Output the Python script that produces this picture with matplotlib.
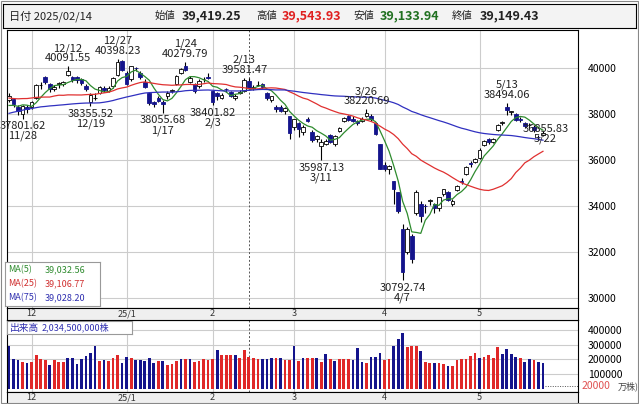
import numpy as np
import pandas as pd
import matplotlib
matplotlib.use("Agg")
import matplotlib.pyplot as plt
from matplotlib.patches import Rectangle

plt.rcParams['font.family'] = ['Noto Sans CJK JP', 'DejaVu Sans']

holidays = ["2024-12-31", "2025-01-01", "2025-01-02", "2025-01-03", "2025-01-13", "2025-02-11",
            "2025-02-24", "2025-03-20", "2025-04-29", "2025-05-05", "2025-05-06"]
dates = [d for d in pd.bdate_range("2024-11-25", "2025-05-23") if d.strftime("%Y-%m-%d") not in holidays]

pre_close = [34675, 35089, 34831, 35025, 36232, 36442, 36726, 38062, 37388, 38062, 37951, 38211, 38364, 38110,
             38288, 38371, 38362, 38647, 38700, 38686, 37047, 36657, 36391, 36159, 36215, 35619, 36833, 36581,
             36203, 36380, 37155, 37723, 37940, 37870, 38925, 39829, 37919, 38651, 37808, 38552, 38635, 39332,
             38937, 39277, 39380, 39605, 39910, 39180, 38911, 38981, 38954, 38411, 38104, 38143, 37913, 38605,
             39027, 39277, 39081, 38053, 38474, 39480, 39381, 39500, 39533, 39376, 38721, 38535, 38642, 38220,
             38414, 38352, 38026, 38283]

ohlc = [
    (38600, 38900, 38500, 38780), (38650, 38700, 38300, 38442), (38300, 38400, 37950, 38134),
    (38000, 38400, 37801.62, 38349), (38300, 38400, 38050, 38208),
    (38300, 38550, 38200, 38513), (38700, 39300, 38650, 39248), (39250, 39400, 39100, 39276),
    (39600, 39650, 39300, 39395), (39300, 39350, 38950, 39091), (39100, 39250, 39000, 39160),
    (39300, 39400, 39150, 39367), (39300, 39450, 39200, 39372), (39700, 40091.55, 39650, 39849),
    (39600, 39650, 39400, 39470), (39600, 39650, 39350, 39457), (39500, 39550, 39250, 39364),
    (39200, 39300, 39000, 39081), (38500, 38900, 38355.52, 38813), (38700, 38900, 38600, 38701),
    (38900, 39200, 38850, 39161), (39150, 39200, 38950, 39036), (39000, 39200, 38950, 39130),
    (39200, 39600, 39150, 39568), (39700, 40398.23, 39650, 40281), (40300, 40350, 39850, 39894),
    (39800, 39850, 39250, 39307), (39500, 40100, 39450, 40083), (40000, 40050, 39850, 39981),
    (39800, 39850, 39500, 39605), (39400, 39500, 39150, 39190), (38900, 38950, 38400, 38474),
    (38500, 38550, 38300, 38444), (38700, 38800, 38500, 38572), (38500, 38600, 38055.68, 38451),
    (38800, 39000, 38650, 38902), (39000, 39100, 38900, 39027), (39300, 39700, 39250, 39646),
    (39800, 40000, 39750, 39958), (40100, 40279.79, 39850, 39931), (39400, 39650, 39350, 39565),
    (39300, 39350, 38900, 39016), (39200, 39500, 39150, 39414), (39500, 39600, 39400, 39513),
    (39600, 39800, 39500, 39572), (39000, 39000, 38401.82, 38520), (38900, 38950, 38600, 38798),
    (38700, 38900, 38650, 38831), (39100, 39150, 38950, 39066), (38950, 39000, 38750, 38787),
    (38700, 38850, 38600, 38801), (38900, 39050, 38850, 38963), (39000, 39581.47, 38950, 39461),
    (39419.25, 39543.93, 39133.94, 39149.43), (39150, 39250, 39050, 39174), (39250, 39450, 39200, 39270),
    (39300, 39350, 39100, 39164), (38900, 38950, 38600, 38678), (38600, 38800, 38500, 38776),
    (38300, 38400, 38100, 38237), (38300, 38400, 38100, 38142), (38150, 38300, 38000, 38256),
    (37900, 37900, 36900, 37155), (37450, 37800, 37300, 37785), (37600, 37650, 37000, 37331),
    (37200, 37500, 37100, 37418), (37800, 37850, 37650, 37704), (37200, 37300, 36800, 36887),
    (36900, 37100, 36800, 37028), (36600, 36900, 35987.13, 36793), (36700, 36900, 36650, 36819),
    (37100, 37150, 36750, 36790), (36700, 37100, 36600, 37053), (37250, 37450, 37200, 37396),
    (37700, 37850, 37650, 37845), (37900, 37950, 37700, 37751), (37800, 37900, 37650, 37677),
    (37700, 37750, 37500, 37608), (37700, 37850, 37650, 37780), (37900, 38220.69, 37850, 38027),
    (37900, 38000, 37700, 37799), (37600, 37650, 37100, 37120), (36700, 36700, 35600, 35617),
    (35800, 35900, 35500, 35624), (35600, 35800, 35400, 35725), (35100, 35100, 34100, 34736),
    (34600, 34600, 33700, 33781), (33000, 33200, 30792.74, 31136), (32000, 33100, 31900, 33012),
    (32700, 32800, 31500, 31714), (33700, 34700, 33600, 34609), (34100, 34200, 33300, 33586),
    (34000, 34100, 33700, 33982), (34200, 34300, 34050, 34267), (34100, 34150, 33700, 33920),
    (33900, 34400, 33800, 34377), (34500, 34750, 34450, 34730), (34600, 34650, 34200, 34280),
    (34100, 34300, 34000, 34220), (34700, 34900, 34650, 34868), (35100, 35200, 34950, 35039),
    (35400, 35750, 35350, 35705), (35850, 35950, 35700, 35839), (35900, 36100, 35850, 36045),
    (36100, 36500, 36050, 36452), (36650, 36850, 36600, 36831), (36900, 36950, 36700, 36780),
    (36800, 36950, 36750, 36928), (37300, 37550, 37250, 37503), (37600, 37700, 37500, 37644),
    (38300, 38494.06, 37950, 38183), (38100, 38150, 37950, 38128), (38000, 38050, 37700, 37755),
    (37800, 37850, 37650, 37753), (37600, 37650, 37400, 37498), (37500, 37600, 37400, 37529),
    (37450, 37500, 37200, 37299), (37000, 37100, 36855.83, 36986), (37100, 37250, 37050, 37160),
]

volume = [289, 205, 198, 182, 175, 182, 232, 205, 198, 164, 198, 182, 182, 211, 211, 170, 205, 223, 243, 289,
          191, 198, 191, 211, 232, 177, 218, 211, 198, 198, 191, 211, 177, 191, 191, 164, 170, 191, 205, 205,
          205, 184, 191, 205, 198, 205,
          266, 232, 232, 232, 232, 211, 261, 218, 211, 205, 205, 205, 211, 211, 211, 198, 198, 289, 191, 211,
          211, 211, 211, 184, 239, 205, 191, 205, 205, 205, 198, 280, 184, 177, 218, 218, 246, 198, 205, 289,
          336, 380, 282, 289, 289, 259, 184, 173, 177, 173, 166, 157, 157, 198, 205, 205, 225, 246, 211, 218,
          232, 211, 282, 239, 270, 239, 218, 211, 184, 205, 198, 184, 173]
vol_color = list("bbbrbrrrrbrrrbbbbbbbrbrrrbbrbbbbbrbrrrbrbrrrrr"
                 "brrrbrrrrrbbbrbrrbrbrrbrbrbrrrbbbrbbbrrbbbrrrbrrbrrbrrrrrrbrrrrbbbbrbbr")

labels_hi = [("12/12", 40091.55), ("12/27", 40398.23), ("1/24", 40279.79), ("2/13", 39581.47),
             ("3/26", 38220.69), ("5/13", 38494.06)]
labels_lo = [("11/28", 37801.62), ("12/19", 38355.52), ("1/17", 38055.68), ("2/3", 38401.82),
             ("3/11", 35987.13), ("4/7", 30792.74), ("5/22", 36855.83)]
header = [("始値", "39,419.25", "#222222"), ("高値", "39,543.93", "#e02020"),
          ("安値", "39,133.94", "#207020"), ("終値", "39,149.43", "#222222")]
ma_legend = [("MA(5)", "39,032.56", "#2e8b2e"), ("MA(25)", "39,106.77", "#d03030"), ("MA(75)", "39,028.20", "#3030b0")]

n = len(dates)
O = np.array([r[0] for r in ohlc]); H = np.array([r[1] for r in ohlc])
L = np.array([r[2] for r in ohlc]); C = np.array([r[3] for r in ohlc])
allc = pd.Series(list(pre_close) + list(C))
npre = len(pre_close)
ma5 = allc.rolling(5).mean().values[npre:]
ma25 = allc.rolling(25).mean().values[npre:]
ma75 = allc.rolling(75).mean().values[npre:]
x = np.arange(n)
datestr = [f"{d.month}/{d.day}" for d in dates]

W, Hh = 639, 404
fig = plt.figure(figsize=(W/100, Hh/100), dpi=100)
def rect(l, t, r, b):
    return [l/W, 1-b/Hh, (r-l)/W, (b-t)/Hh]

NAVY = "#14148c"
xl = ((7-9)/4.525, (578-9)/4.525)
mt, ml = [], []
for i, d in enumerate(dates):
    if i == 0: continue
    if d.month != dates[i-1].month:
        mt.append(i); ml.append("25/1" if d.month == 1 else str(d.month))
feb14 = datestr.index("2/14")

ax = fig.add_axes(rect(7, 30, 578, 308))
ax.set_xlim(*xl)
ax.set_ylim(29565, 41652)
for yv in range(30000, 41000, 2000):
    ax.axhline(yv, color="#cccccc", lw=0.8, zorder=0)
for t in mt:
    ax.axvline(t, color="#cccccc", lw=0.8, zorder=0)
ax.axvline(feb14, color="#555555", lw=0.7, ls=(0, (2, 2)), zorder=1)
for i in range(n):
    ax.vlines(x[i], L[i], H[i], color="black", lw=0.8, zorder=2)
    up = C[i] >= O[i]
    ax.bar(x[i], abs(C[i]-O[i]) or 20, bottom=min(O[i], C[i]), width=0.8,
           color="white" if up else NAVY, edgecolor="black" if up else NAVY, lw=0.6, zorder=3)
ax.plot(x, ma5, color="#2e8b2e", lw=0.9, zorder=4)
ax.plot(x, ma25, color="#e03030", lw=0.9, zorder=4)
ax.plot(x, ma75, color="#3030c0", lw=0.9, zorder=4)
ax.set_xticks([]); ax.yaxis.tick_right()
ax.set_yticks(range(30000, 41000, 2000))
ax.tick_params(axis="y", length=0, labelsize=7.5, pad=7)
for s in ax.spines.values(): s.set_color("black"); s.set_linewidth(0.8)
for lab, v in labels_hi:
    i = datestr.index(lab)
    ax.annotate(f"{lab}\n{v:.2f}", (i, v), xytext=(0, 2), textcoords="offset points",
                ha="center", va="bottom", fontsize=8, color="#222222", linespacing=0.95, zorder=6)
for lab, v in labels_lo:
    i = datestr.index(lab)
    off = (5, 12) if lab == "5/22" else (0, -2)
    ax.annotate(f"{v:.2f}\n{lab}", (i, v), xytext=off, textcoords="offset points",
                ha="center", va="top", fontsize=8, color="#222222", linespacing=0.95, zorder=6)
lax = fig.add_axes(rect(5, 262, 100, 306)); lax.set_xticks([]); lax.set_yticks([])
for s in lax.spines.values(): s.set_color("#999999")
for k, (a, b, c) in enumerate(ma_legend):
    yy = 0.82 - k*0.32
    lax.text(0.03, yy, a, color=c, fontsize=6.5, va="center", transform=lax.transAxes)
    lax.text(0.42, yy, b, color=c, fontsize=6.5, va="center", transform=lax.transAxes)

vax = fig.add_axes(rect(7, 320, 578, 392))
vax.set_xlim(*xl); vax.set_ylim(-22700, 468000)
for yv in range(100000, 500000, 100000):
    vax.axhline(yv, color="#cccccc", lw=0.8, zorder=0)
for t in mt:
    vax.axvline(t, color="#cccccc", lw=0.8, zorder=0)
vax.axvline(feb14, color="#555555", lw=0.7, ls=(0, (2, 2)), zorder=1)
vax.bar(x, np.array(volume)*1000, width=0.6,
        color=["#e02828" if c == "r" else NAVY for c in vol_color], zorder=2)
vax.hlines(20000, n-0.5, xl[1], color="#555555", lw=0.7, ls=(0, (1, 1.5)))
vax.set_xticks([]); vax.yaxis.tick_right()
vax.set_yticks([100000, 200000, 300000, 400000])
vax.tick_params(axis="y", length=0, labelsize=7.5, pad=7)
for s in vax.spines.values(): s.set_color("black"); s.set_linewidth(0.8)
fig.text(582/W, 1-386/Hh, "20000", color="#e05050", fontsize=7.5, va="center")
fig.text(618/W, 1-386/Hh, "万株)", color="#444444", fontsize=6.5, va="center")
vbox = fig.add_axes(rect(7, 321, 132, 334)); vbox.set_xticks([]); vbox.set_yticks([])
vbox.patch.set_facecolor("white")
for s in vbox.spines.values(): s.set_color("#999999")
vbox.text(0.02, 0.5, "出来高", color="#3030b0", fontsize=7, va="center", transform=vbox.transAxes)
vbox.text(0.28, 0.5, "2,034,500,000株", color="#3030b0", fontsize=6.5, va="center", transform=vbox.transAxes)

for top, bot in [(308, 320), (392, 404)]:
    sax = fig.add_axes(rect(7, top, 578, bot))
    sax.set_xlim(*xl); sax.set_ylim(0, 1)
    sax.patch.set_facecolor("#efefef")
    sax.set_xticks([]); sax.set_yticks([])
    for s in sax.spines.values(): s.set_color("black"); s.set_linewidth(0.8)
    for t, l in zip(mt, ml):
        sax.text(t, 0.5, l, ha="center", va="center", fontsize=6.5, color="#333333")

hax = fig.add_axes(rect(3, 4, 636, 28)); hax.set_xticks([]); hax.set_yticks([])
hax.patch.set_facecolor("#f3f3f3")
for s in hax.spines.values(): s.set_color("black"); s.set_linewidth(0.8)
fig.text(9/W, 1-16/Hh, "日付 2025/02/14", fontsize=8, va="center", color="#222222")
xs = [(155, 182), (256, 282), (353, 380), (452, 480)]
for (a, v, c), (x1, x2) in zip(header, xs):
    fig.text(x1/W, 1-16/Hh, a, fontsize=7.5, va="center", color="#222222")
    fig.text(x2/W, 1-16/Hh, v, fontsize=9, va="center", color=c, fontweight="bold")
fig.patches.append(Rectangle((0.002, 0.002), 0.996, 0.996, transform=fig.transFigure,
                             fill=False, ec="#888888", lw=0.8))
fig.savefig("out.png", dpi=100)
